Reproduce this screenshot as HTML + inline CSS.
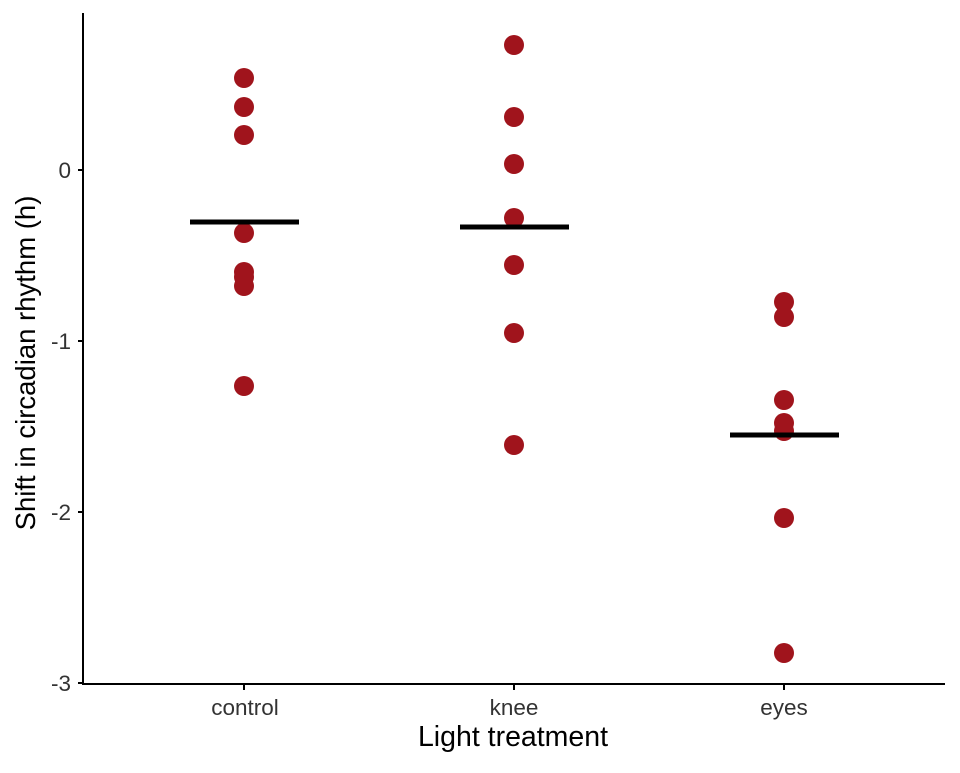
<!DOCTYPE html>
<html><head><meta charset="utf-8"><style>html,body{margin:0;padding:0;background:#fff}</style></head>
<body>
<svg width="960" height="768" viewBox="0 0 960 768" xmlns="http://www.w3.org/2000/svg" font-family="Liberation Sans, sans-serif">
<rect width="960" height="768" fill="#fff"/>
<g stroke="#000" stroke-width="2" fill="none">
<line x1="83" y1="13" x2="83" y2="684"/>
<line x1="82" y1="684" x2="945" y2="684"/>
<line x1="78" y1="170" x2="83" y2="170"/>
<line x1="78" y1="341" x2="83" y2="341"/>
<line x1="78" y1="512" x2="83" y2="512"/>
<line x1="78" y1="683" x2="83" y2="683"/>
<line x1="244" y1="684" x2="244" y2="690"/>
<line x1="514" y1="684" x2="514" y2="690"/>
<line x1="784" y1="684" x2="784" y2="690"/>
</g>
<g fill="#333" font-size="22.5" text-anchor="end">
<text x="71" y="178">0</text>
<text x="71" y="349">-1</text>
<text x="71" y="520">-2</text>
<text x="71" y="691">-3</text>
</g>
<g fill="#333" font-size="22.5" text-anchor="middle">
<text x="245" y="715">control</text>
<text x="514" y="715">knee</text>
<text x="784" y="715">eyes</text>
</g>
<text x="513" y="746" font-size="28.5" text-anchor="middle" fill="#000">Light treatment</text>
<text transform="translate(35,363) rotate(-90)" font-size="27.5" text-anchor="middle" fill="#000">Shift in circadian rhythm (h)</text>
<g fill="#A0141C">
<circle cx="244" cy="78" r="10"/><circle cx="244" cy="107" r="10"/><circle cx="244" cy="135" r="10"/>
<circle cx="244" cy="233" r="10"/><circle cx="244" cy="272" r="10"/><circle cx="244" cy="277" r="10"/>
<circle cx="244" cy="286" r="10"/><circle cx="244" cy="386" r="10"/>
<circle cx="514" cy="45" r="10"/><circle cx="514" cy="117" r="10"/><circle cx="514" cy="164" r="10"/>
<circle cx="514" cy="218" r="10"/><circle cx="514" cy="265" r="10"/><circle cx="514" cy="333" r="10"/>
<circle cx="514" cy="445" r="10"/>
<circle cx="784" cy="302" r="10"/><circle cx="784" cy="317" r="10"/><circle cx="784" cy="400" r="10"/>
<circle cx="784" cy="423" r="10"/><circle cx="784" cy="431" r="10"/><circle cx="784" cy="518" r="10"/>
<circle cx="784" cy="653" r="10"/>
</g>
<g stroke="#000" stroke-width="5">
<line x1="190" y1="222" x2="299" y2="222"/>
<line x1="460" y1="227" x2="569" y2="227"/>
<line x1="730" y1="435" x2="839" y2="435"/>
</g>
</svg>
</body></html>
